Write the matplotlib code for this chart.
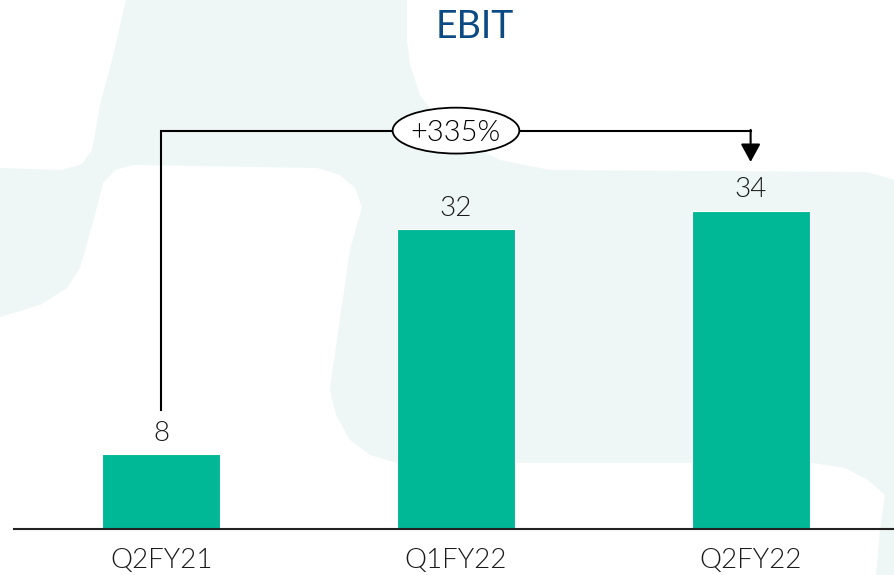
import matplotlib.pyplot as plt
from matplotlib.patches import Polygon, Ellipse

# data
quarters = ["Q2FY21", "Q1FY22", "Q2FY22"]
ebit = [8, 32, 34]
growth_label = "+335%"

plt.rcParams['font.family'] = ['Lato', 'DejaVu Sans']

bar_color = '#00B796'
text_color = '#1A1A1A'
mint = '#EEF7F5'
weight = 300

fig = plt.figure(figsize=(8.95, 5.75), dpi=100)
fig.patch.set_facecolor(mint)


def px(points):
    # pixel coords (from top left) -> figure fraction
    return [(x / 895, 1 - y / 575) for x, y in points]


# white background shapes, the mint shows through between them
top_left = [(0, 0), (126, 0), (112, 60), (100, 105), (92, 150), (82, 164),
            (62, 170), (0, 168)]
top_right = [(407, 0), (895, 0), (895, 180), (867, 172), (550, 170),
             (500, 160), (470, 145), (440, 122), (420, 95), (410, 65), (407, 40)]
middle = [(0, 317), (40, 305), (67, 288), (80, 268), (95, 215), (103, 183),
          (115, 170), (133, 165), (317, 168), (340, 175), (355, 188), (362, 207),
          (350, 250), (333, 367), (330, 390), (336, 415), (350, 440), (370, 455),
          (397, 463), (813, 463), (845, 468), (868, 480), (885, 495), (880, 530),
          (876, 575), (0, 575)]
for shape in (top_left, top_right, middle):
    fig.patches.append(Polygon(px(shape), closed=True, transform=fig.transFigure,
                               facecolor='white', edgecolor='none', zorder=-1))

ax = fig.add_axes([14 / 895, 46 / 575, 881 / 895, 529 / 575])
ax.patch.set_visible(False)
ax.set_zorder(2)

x = list(range(len(quarters)))
bars = ax.bar(x, ebit, width=0.4, color=bar_color, edgecolor='white',
              linewidth=0.8, zorder=2)

for xi, v in zip(x, ebit):
    ax.annotate(str(v), (xi, v), xytext=(0, 9.5), textcoords='offset points',
                ha='center', va='baseline', fontsize=20, fontweight=weight,
                color=text_color)

ax.set_xlim(-0.5, 2.49)
ax.set_ylim(0, 56.5)

ax.set_xticks(x, quarters)
ax.set_yticks([])
ax.tick_params(axis='x', length=0, pad=14, labelsize=20, labelcolor=text_color)
for lab in ax.get_xticklabels():
    lab.set_fontweight(weight)
for side in ('top', 'left', 'right'):
    ax.spines[side].set_visible(False)
ax.spines['bottom'].set_linewidth(1.5)
ax.spines['bottom'].set_color('#222222')

# growth bracket from first to last bar
start_y = ebit[0] + 4.7
bracket_y = max(ebit) + 8.55
tip_y = ebit[-1] + 5.2
ax.plot([x[0], x[0], x[-1]], [start_y, bracket_y, bracket_y], color='black',
        lw=1.5, solid_joinstyle='miter', zorder=3)
ax.annotate('', xy=(x[-1], tip_y), xytext=(x[-1], bracket_y + 0.08),
            arrowprops=dict(arrowstyle='-|>,head_length=0.55,head_width=0.3',
                            color='black', lw=1.5, mutation_scale=20,
                            shrinkA=0, shrinkB=0), zorder=3)
mid = (x[0] + x[-1]) / 2
ax.add_patch(Ellipse((mid, bracket_y), 0.43, 4.9, facecolor='white',
                     edgecolor='black', lw=1.3, zorder=4))
ax.text(mid, bracket_y, growth_label, ha='center', va='center_baseline',
        fontsize=21, fontweight=weight, color='black', zorder=5)

fig.text(475 / 895, 1 - 27 / 575, 'EBIT', ha='center', va='center',
         fontsize=27, color='#0B4A82')

fig.savefig('out.png', dpi=100, facecolor=fig.get_facecolor())
